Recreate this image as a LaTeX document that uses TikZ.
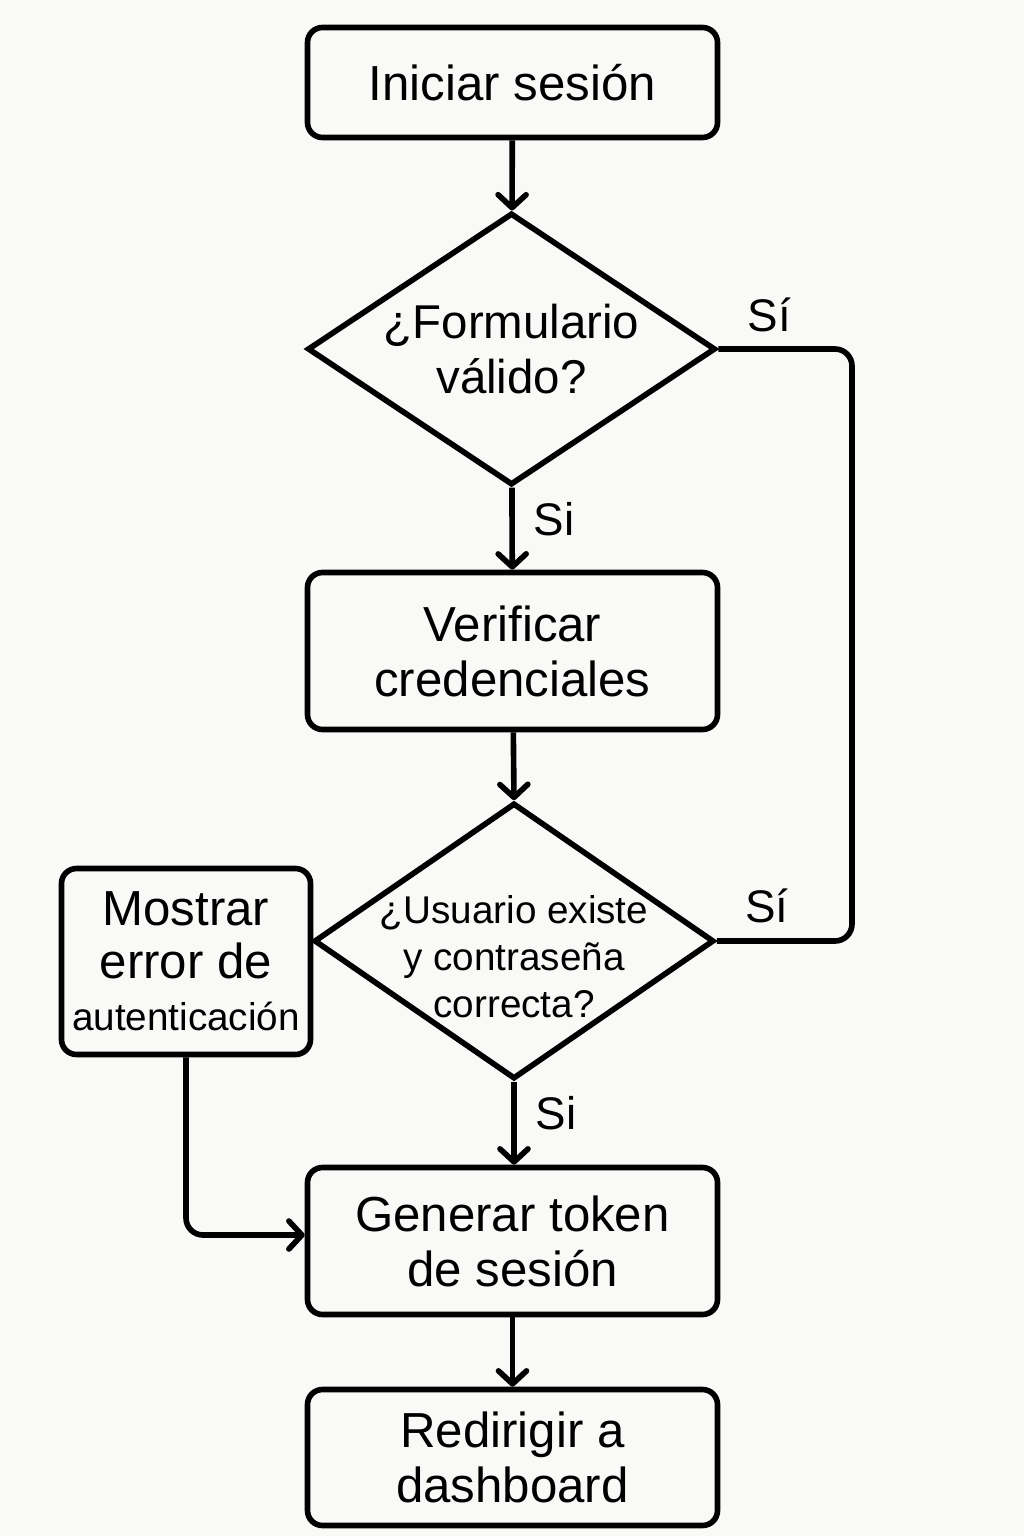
\documentclass[tikz,border=0pt]{standalone}
\usepackage{fontspec}
\setmainfont{Liberation Sans}
\usepackage{tikz}
\usetikzlibrary{shapes.geometric,arrows.meta}
\definecolor{fondo}{RGB}{249,249,247}
\tikzset{proc/.style={draw,rounded corners=0.15cm,line width=1.6pt,minimum width=4.1cm,align=center,font=\fontsize{14}{15.6}\selectfont}}
\tikzset{decis/.style={draw,diamond,line width=1.6pt,inner sep=0pt}}
\tikzset{dtext/.style={align=center,inner sep=0pt}}
\tikzset{flecha/.style={line width=1.6pt,-{Straight Barb[length=1.3mm,width=2.8mm,round]}}}
\tikzset{linea/.style={line width=1.6pt,rounded corners=0.17cm}}
\tikzset{etiq/.style={inner sep=0pt,font=\fontsize{13}{14}\selectfont}}

\begin{document}
\begin{tikzpicture}

    \fill[fondo] (0,0) rectangle (10.24,-15.36);
    \useasboundingbox (0,0) rectangle (10.24,-15.36);

    \node[proc,minimum height=1.1cm] (inicio) at (5.125,-0.825) {Iniciar sesión};
    \node[decis,minimum width=4.08cm,minimum height=2.72cm] (valido) at (5.115,-3.49) {};
    \node[dtext,font=\fontsize{13.5}{15.6}\selectfont] (valido-txt) at (valido.center) {¿Formulario\\válido?};
    \node[proc,minimum height=1.57cm] (verificar) at (5.125,-6.51) {Verificar\\credenciales};
    \node[decis,minimum width=4.0cm,minimum height=2.76cm] (existe) at (5.14,-9.41) {};
    \node[dtext,font=\fontsize{11}{13.4}\selectfont] (existe-txt) at ([yshift=-0.16cm]existe.center) {¿Usuario existe\\y contraseña\\correcta?};
    \node[proc,minimum width=2.49cm,minimum height=1.86cm,inner sep=0pt,font=\fontsize{14}{15}\selectfont] (error) at (1.86,-9.615) {Mostrar\\error de\\{\fontsize{11}{15}\selectfont autenticación}};
    \node[proc,minimum height=1.47cm] (token) at (5.125,-12.41) {Generar token\\de sesión};
    \node[proc,minimum height=1.36cm] (dashboard) at (5.125,-14.575) {Redirigir a\\dashboard};

    \coordinate (derA) at (8.52,-3.49);
    \coordinate (derB) at (8.52,-9.41);

    \draw[flecha] (inicio) -- (valido);
    \draw[flecha] (valido) -- node[etiq,right=0.19cm,pos=0.38] (si-a) {Si} (verificar);
    \draw[flecha] (verificar) -- (existe.north);
    \draw[flecha] (existe.south) -- node[etiq,right=0.19cm,pos=0.38] (si-b) {Si} (existe.south |- token.north);
    \draw[flecha] (token) -- (dashboard);

    \draw[linea] (valido.east) -- node[etiq,above=0.14cm,pos=0.38] (si-c) {Sí} (derA)
        -- (derB) -- node[etiq,above=0.15cm,pos=0.63] (si-d) {Sí} (existe.east);
    \draw[linea,flecha] (error.south) |- ([yshift=0.06cm]token.west);

\end{tikzpicture}
\end{document}
